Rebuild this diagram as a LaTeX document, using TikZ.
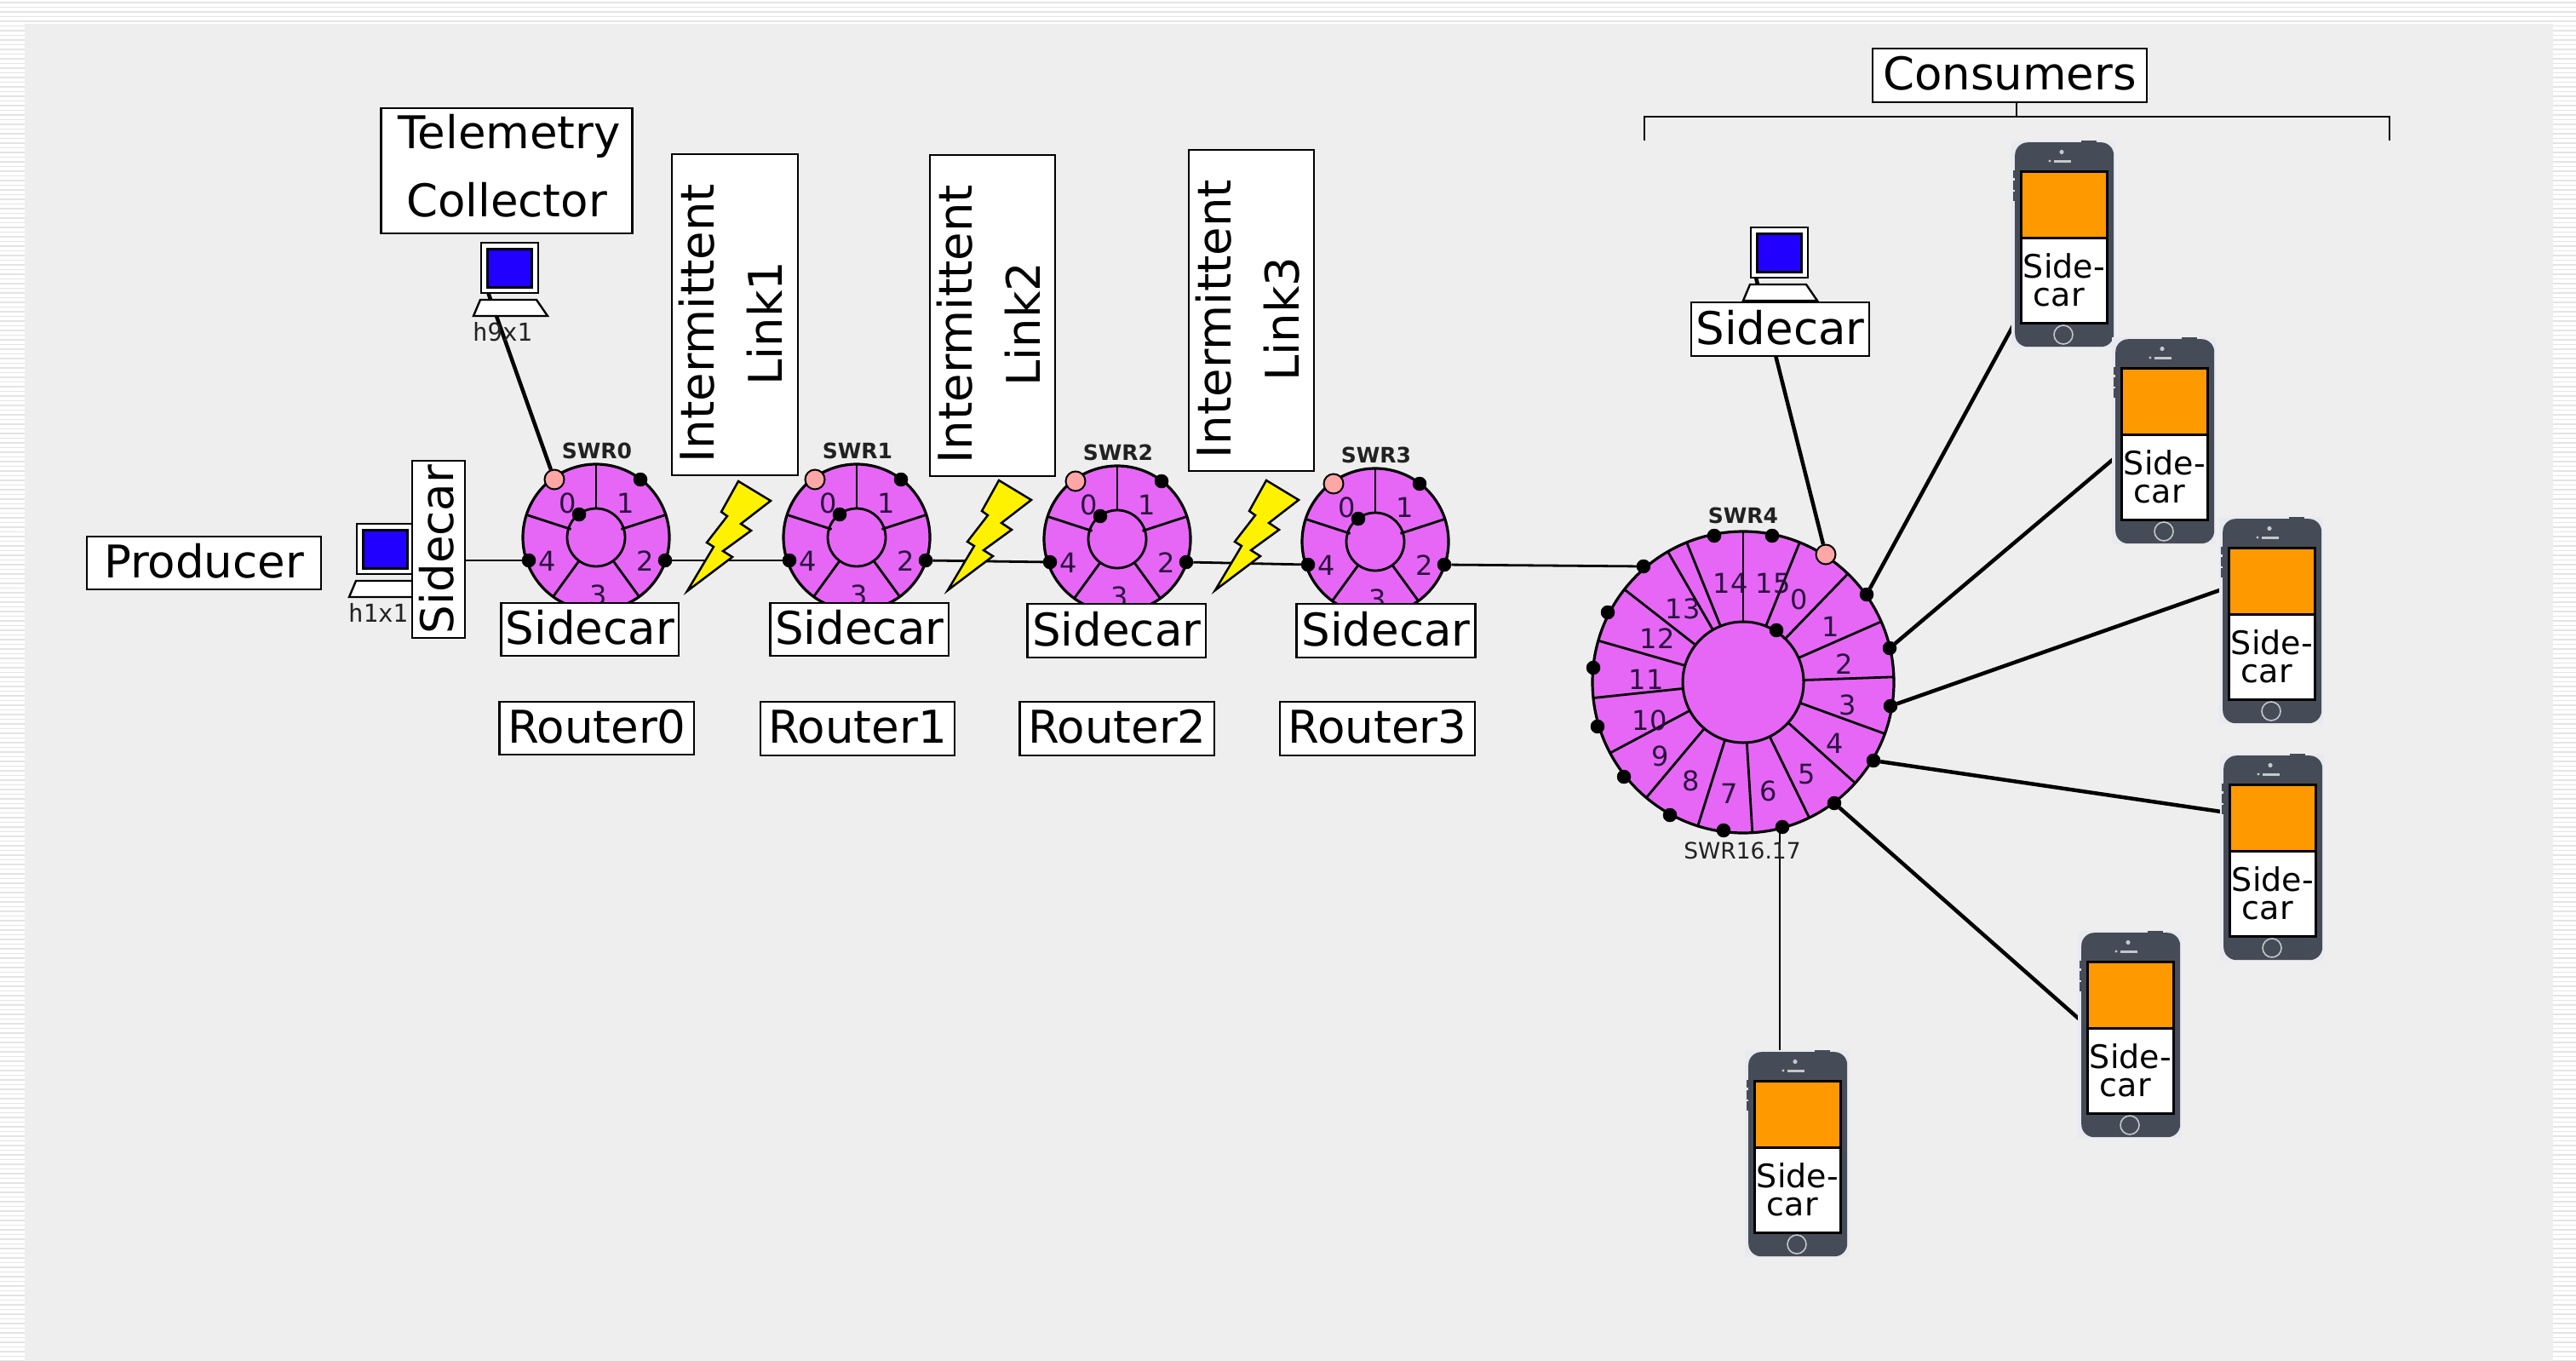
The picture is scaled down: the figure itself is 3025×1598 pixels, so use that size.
\documentclass[tikz,border=0pt]{standalone}
\usepackage{fontspec}
\setmainfont{DejaVu Sans}
\newfontfamily\hostmono{DejaVu Sans Mono}
\definecolor{bgg}{HTML}{EEEEEE}
\definecolor{strp}{HTML}{E4E4E4}
\definecolor{mag}{HTML}{E667F5}
\definecolor{pinkp}{HTML}{FFA6A6}
\definecolor{scr}{HTML}{2200FF}
\definecolor{orng}{HTML}{FF9900}
\definecolor{phbody}{HTML}{454C57}
\definecolor{phedge}{HTML}{E8EAF0}
\definecolor{phlight}{HTML}{C4C8CC}
\definecolor{numc}{HTML}{2B1040}
\definecolor{swc}{HTML}{222222}
\pgfdeclarelayer{back}
\pgfdeclarelayer{lines}
\pgfsetlayers{back,lines,main}
\tikzset{
  lbl/.style={draw=black,fill=white,line width=2.8pt,inner sep=0pt,align=center,font=\fontsize{53}{80}\selectfont,text depth=5pt},
  wheel/.style={circle,draw=black,fill=mag,line width=3.2pt,inner sep=0pt},
  spoke/.style={draw=black,line width=2.8pt},
  num/.style={font=\fontsize{32}{36}\selectfont,text=numc,inner sep=0pt},
  swr/.style={font=\bfseries\fontsize{25}{28}\selectfont,text=swc,inner sep=0pt},
  port/.style={circle,fill=black,draw=black,line width=0.5pt,inner sep=0pt,minimum size=16pt},
  pport/.style={circle,fill=pinkp,draw=black,line width=2pt,inner sep=0pt,minimum size=23pt},
  thinlink/.style={draw=black,line width=2.8pt},
  thicklink/.style={draw=black,line width=4.5pt},
  bolt/.style={draw=black,fill=yellow,line width=2.5pt,miter limit=10},
  hostlabel/.style={font=\hostmono\fontsize{29}{30}\selectfont,text=swc,inner sep=0pt},
  phonetext/.style={draw=black,fill=white,line width=2.6pt,inner sep=0pt,align=center,font=\fontsize{38}{33}\selectfont,minimum width=101pt,minimum height=100pt},
  phonetop/.style={draw=black,fill=orng,line width=2.6pt,inner sep=0pt,minimum width=101pt,minimum height=78pt},
  phonecase/.style={fill=phbody,rounded corners=15pt,inner sep=0pt,minimum width=116pt,minimum height=240pt},
}
% small router: name, cx, cy, label
\newcommand{\smallrouter}[4]{%
  \begin{scope}[shift={(#2,#3)}]
    \node[wheel,minimum size=172pt] (#1) at (0,0) {};
    \foreach \a/\r in {90/34,18/31,-54/34,-126/34,162/31}
      \draw[spoke] (\a:\r pt) -- (\a:86pt);
    \node[circle,draw=black,line width=2.8pt,inner sep=0pt,minimum size=68pt] (#1i) at (0,0) {};
    \node[num] (#1n0) at (-33,-40) {0};
    \node[num] (#1n1) at (35,-40) {1};
    \node[num] (#1n2) at (58,28) {2};
    \node[num] (#1n3) at (3,68) {3};
    \node[num] (#1n4) at (-57,28) {4};
    \node[pport] (#1p0) at (-49,-68) {};
    \node[port] (#1p1) at (52,-68) {};
    \node[port] (#1p2) at (81,27) {};
    \node[port] (#1p4) at (-79,27) {};
    \node[port] (#1pi) at (-20,-27) {};
    \node[swr] (#1l) at (1,-102) {#4};
  \end{scope}}
% host: name, x, y
\newcommand{\hostbox}[3]{%
  \begin{scope}[shift={(#2,#3)}]
    \draw[fill=white,line width=2.4pt] (0,68) -- (66,68) -- (79,87) -- (-8,87) -- cycle;
    \node[draw=black,fill=white,line width=2pt,inner sep=0pt,minimum width=67pt,minimum height=59pt,anchor=north west] (#1) at (0,0) {};
    \node[draw=black,fill=scr,line width=3pt,inner sep=0pt,minimum width=52pt,minimum height=45pt,anchor=north west] (#1s) at (7,7) {};
  \end{scope}}
% phone: name, x, y
\newcommand{\phonebox}[3]{%
  \begin{scope}[shift={(#2,#3)}]
    \fill[phedge] (-4,-2) rectangle (118,241);
    \fill[phbody] (78,-2) rectangle (96,4);
    \fill[phbody] (-2,33) rectangle (1,42);
    \fill[phbody] (-2,45) rectangle (1,56);
    \fill[phbody] (-2,58) rectangle (1,69);
    \node[phonecase,anchor=north west] (#1) at (0,0) {};
    \fill[phlight] (55,11.5) circle[radius=2.6];
    \draw[phlight,line width=3pt] (46,22) -- (66,22);
    \fill[phlight] (41,22) circle[radius=1.6];
    \draw[phlight,line width=1.6pt] (57,226) circle[radius=11];
    \node[phonetop,anchor=north west] (#1a) at (6,33) {};
    \node[phonetext,anchor=north west] (#1b) at (6,111) {Side-\\car\hspace*{12pt}};
  \end{scope}}
\newcommand{\boltshape}[2]{%
  \draw[bolt,shift={(#1,#2)}] (0,0) -- (31,-52) -- (23,-57) -- (47,-88) -- (40,-93) -- (60,-129) -- (98,-106) -- (63,-79) -- (75,-71) -- (42,-47) -- (53,-40) -- cycle;}
\begin{document}
\begin{tikzpicture}[x=1pt,y=-1pt]
\useasboundingbox (0,0) rectangle (3025,1598);
\begin{pgfonlayer}{back}
\fill[white] (0,0) rectangle (3025,1598);
\foreach \k in {0,...,290}
  \fill[strp] (0,{2+5.5*\k}) rectangle (3025,{3.6+5.5*\k});
\fill[bgg] (29,28) rectangle (2998,1598);
\end{pgfonlayer}

% routers
\smallrouter{R0}{700}{631}{SWR0}
\smallrouter{R1}{1006}{631}{SWR1}
\smallrouter{R2}{1312}{633}{SWR2}
\smallrouter{R3}{1615}{636}{SWR3}

% big router
\begin{scope}[shift={(2047,801)}]
  \node[wheel,minimum size=354pt] (R4) at (0,0) {};
  \foreach \a in {90,68,46,23.7,2,-20,-42,-64,-86.5,-107.5,-130,-152,-174,164,142,120,112}
    \draw[spoke] (\a:71pt) -- (\a:177pt);
  \node[circle,draw=black,line width=3pt,inner sep=0pt,minimum size=142pt] (R4i) at (0,0) {};
  \foreach \t/\dx/\dy in {0/66/-97,1/103/-65,2/119/-21,3/123/27,4/108/72,5/75/108,6/30/128,7/-16/131,8/-61/116,9/-97/87,10/-110/45,11/-114/-3,12/-101/-51,13/-71/-86,14/-15/-116,15/35/-116}
    \node[num] (R4n\t) at (\dx,\dy) {\t};
  \foreach \n/\dx/\dy in {a/-34/-172,b/34/-172,c/145/-103,d/172/-40,e/173/28,f/153/92,g/107/142,h/46/170,j/-23/174,k/-86/156,l/-140/111,m/-171/52,n/-176/-17,o/-159/-82,q/-117/-136,r/39/-61}
    \node[port] (R4p\n) at (\dx,\dy) {};
  \node[pport] (R4pp) at (97,-150) {};
  \node[swr] (R4l) at (0,-196) {SWR4};
  \node[font=\fontsize{26.5}{28}\selectfont,text=swc,inner sep=0pt] (R4name) at (-1,198) {SWR16.17};
\end{scope}

% hosts
\hostbox{H9}{564}{284}
\node[hostlabel] (H9l) at (590,390) {h9x1};
\hostbox{H1}{418}{614}
\node[hostlabel] (H1l) at (444,719) {h1x1};
\hostbox{H4}{2055}{266}

% bolts
\boltshape{807}{694}
\boltshape{1113}{693}
\boltshape{1427}{693}

% labels
\node[lbl,text depth=13pt,minimum width=295pt,minimum height=147pt] (tel) at (595,200.5) {\hspace*{6pt}Telemetry\\Collector};
\node[lbl,minimum width=275pt,minimum height=62pt] (prod) at (239.5,661) {Producer};
\node[lbl,rotate=90,minimum width=208pt,minimum height=62pt] (sc0) at (515,645) {Sidecar};
\node[lbl,rotate=90,font=\fontsize{54.5}{80}\selectfont,text depth=10pt,minimum width=377pt,minimum height=148pt] (il1) at (863,369.5) {Intermittent\hspace*{20pt}\\Link1\hspace*{20pt}};
\node[lbl,rotate=90,font=\fontsize{54.5}{80}\selectfont,text depth=10pt,minimum width=377pt,minimum height=147pt] (il2) at (1165.5,370.5) {Intermittent\hspace*{20pt}\\Link2\hspace*{20pt}};
\node[lbl,rotate=90,font=\fontsize{54.5}{80}\selectfont,text depth=10pt,minimum width=377pt,minimum height=147pt] (il3) at (1469.5,364.5) {Intermittent\hspace*{20pt}\\Link3\hspace*{20pt}};
\node[lbl,minimum width=208.5pt,minimum height=62pt] (sc1) at (692.8,739) {Sidecar};
\node[lbl,minimum width=209.5pt,minimum height=62pt] (sc2) at (1009.3,739) {Sidecar};
\node[lbl,minimum width=209.5pt,minimum height=63pt] (sc3) at (1311.3,740.5) {Sidecar};
\node[lbl,minimum width=209.5pt,minimum height=63pt] (sc4) at (1627.4,740.5) {Sidecar};
\node[lbl,minimum width=228.5pt,minimum height=62pt] (rt0) at (700.8,855) {Router0};
\node[lbl,minimum width=228pt,minimum height=63pt] (rt1) at (1007,855.5) {Router1};
\node[lbl,minimum width=228.5pt,minimum height=63pt] (rt2) at (1311.8,855.5) {Router2};
\node[lbl,minimum width=229pt,minimum height=63pt] (rt3) at (1617.5,855.5) {Router3};
\node[lbl,minimum width=209pt,minimum height=63pt] (sc5) at (2090.5,386.5) {Sidecar};
\node[lbl,minimum width=322pt,minimum height=63pt] (cons) at (2360,88.5) {Consumers};

% phones
\phonebox{P1}{2366}{167}
\phonebox{P2}{2484}{398}
\phonebox{P3}{2610}{609}
\phonebox{P4}{2611}{887}
\phonebox{P5}{2444}{1095}
\phonebox{P6}{2053}{1235}

% free ends and connectors
\coordinate (brL) at (1931,165);
\coordinate (brR) at (2806,165);
\coordinate (brT) at (2368,137);
\coordinate (H9c) at (573,343);
\coordinate (H4c) at (2062,326);
\coordinate (E1) at (2368,375);
\coordinate (E2) at (2490,532);
\coordinate (E3) at (2615,690);
\coordinate (E4) at (2615,954);
\coordinate (E5) at (2450,1204);
\coordinate (E6) at (2090,1240);
\coordinate (S6) at (2090,975);
\begin{pgfonlayer}{lines}
  \draw[thinlink] (sc0.center |- R0p4) -- (R0p4);
  \draw[thinlink] (R0p2) -- (R1p4);
  \draw[thinlink] (R1p2) -- (R2p4);
  \draw[thinlink] (R2p2) -- (R3p4);
  \draw[thinlink] (R3p2) -- (R4pq);
  \draw[thicklink] (H9c) -- (R0p0);
  \draw[thicklink] (H4c) -- (R4pp);
  \draw[thicklink] (R4pc) -- (E1);
  \draw[thicklink] (R4pd) -- (E2);
  \draw[thicklink] (R4pe) -- (E3);
  \draw[thicklink] (R4pf) -- (E4);
  \draw[thicklink] (R4pg) -- (E5);
  \draw[thinlink] (S6) -- (E6);
  \draw[thinlink] (brL) -- (brL |- brT) -- (brR |- brT) -- (brR);
  \draw[thinlink] (cons.center -| brT) -- (brT);
\end{pgfonlayer}
\end{tikzpicture}
\end{document}
